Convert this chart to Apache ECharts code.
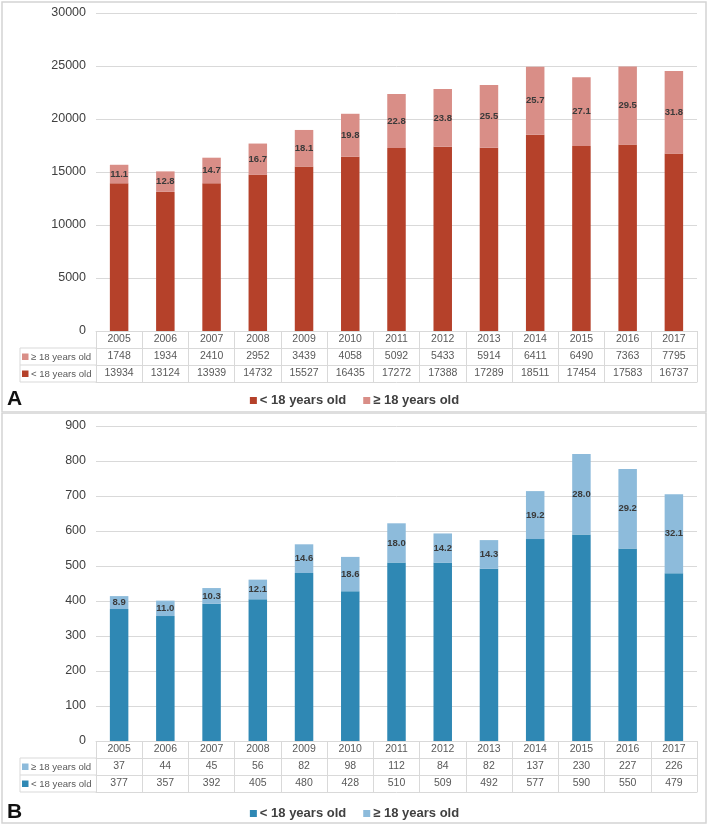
<!DOCTYPE html>
<html><head><meta charset="utf-8">
<script src="https://cdn.jsdelivr.net/npm/echarts@6/dist/echarts.min.js"></script>
<style>
html,body{margin:0;padding:0;background:#fff;}
#a{position:absolute;left:0;top:0;width:709px;height:413px;}
#b{position:absolute;left:0;top:413px;width:709px;height:414px;}
</style>
</head><body><div id="a"></div><div id="b"></div>
<script>
const years = ['2005','2006','2007','2008','2009','2010','2011','2012','2013','2014','2015','2016','2017'];
const seriesNames = ['< 18 years old', '≥ 18 years old'];

const aUnder = [13934,13124,13939,14732,15527,16435,17272,17388,17289,18511,17454,17583,16737];
const aOver  = [1748,1934,2410,2952,3439,4058,5092,5433,5914,6411,6490,7363,7795];
const aPct   = ['11.1','12.8','14.7','16.7','18.1','19.8','22.8','23.8','25.5','25.7','27.1','29.5','31.8'];
const aAxisMax = 30000, aAxisStep = 5000;

const bUnder = [377,357,392,405,480,428,510,509,492,577,590,550,479];
const bOver  = [37,44,45,56,82,98,112,84,82,137,230,227,226];
const bPct   = ['8.9','11.0','10.3','12.1','14.6','18.6','18.0','14.2','14.3','19.2','28.0','29.2','32.1'];
const bAxisMax = 900, bAxisStep = 100;

const FONT = "'Liberation Sans', Arial, sans-serif";
const LINE = '#d9d9d9';

function build(elId, under, over, pct, yMax, yStep, cDark, cLight, letter, gridBottomLocal) {
  const el = document.getElementById(elId);
  const H = el.clientHeight;
  const chart = echarts.init(el, null, {renderer: 'canvas'});
  const gLeft = 96, gRight = 12, gTop = 13;
  const rowH = 17;
  const y0 = gridBottomLocal;
  function tableAxis(offset, fmt, ticks, labels) {
    return {
      type: 'category', gridIndex: 0, data: years, position: 'bottom', offset: offset,
      boundaryGap: true,
      axisLine: {show: true, lineStyle: {color: LINE, width: 1}},
      axisTick: {show: ticks, length: rowH, interval: 0, lineStyle: {color: LINE, width: 1}},
      axisLabel: {show: labels, interval: 0, margin: 3, color: '#595959', fontSize: 10.5,
                  fontFamily: FONT, formatter: fmt},
      splitLine: {show: false}
    };
  }
  const graphic = [
    {type: 'rect', shape: {x: 2, y: elId === 'a' ? 2 : 0, width: 704, height: 410},
     style: {fill: 'none', stroke: '#d4d4d4', lineWidth: 1.5}, silent: true},
    {type: 'text', x: 7, y: 399, style: {text: letter, font: 'bold 21px ' + FONT, fill: '#111',
      textVerticalAlign: 'middle'}},
    {type: 'line', shape: {x1: 20, y1: y0 + rowH, x2: gLeft, y2: y0 + rowH}, style: {stroke: LINE, lineWidth: 1}},
    {type: 'line', shape: {x1: 20, y1: y0 + 2*rowH, x2: gLeft, y2: y0 + 2*rowH}, style: {stroke: LINE, lineWidth: 1}},
    {type: 'line', shape: {x1: 20, y1: y0 + 3*rowH, x2: gLeft, y2: y0 + 3*rowH}, style: {stroke: LINE, lineWidth: 1}},
    {type: 'line', shape: {x1: 20, y1: y0 + rowH, x2: 20, y2: y0 + 3*rowH}, style: {stroke: LINE, lineWidth: 1}},
    {type: 'rect', shape: {x: 22, y: y0 + rowH + 5.5, width: 6.5, height: 6.5}, style: {fill: cLight}},
    {type: 'text', x: 31, y: y0 + rowH + 9, style: {text: seriesNames[1], font: '9.6px ' + FONT,
      fill: '#595959', textVerticalAlign: 'middle'}},
    {type: 'rect', shape: {x: 22, y: y0 + 2*rowH + 5.5, width: 6.5, height: 6.5}, style: {fill: cDark}},
    {type: 'text', x: 31, y: y0 + 2*rowH + 9, style: {text: seriesNames[0], font: '9.6px ' + FONT,
      fill: '#595959', textVerticalAlign: 'middle'}}
  ];
  const option = {
    animation: false,
    backgroundColor: '#fff',
    textStyle: {fontFamily: FONT},
    grid: {left: gLeft, right: gRight, top: gTop, bottom: H - y0, containLabel: false},
    legend: {
      data: seriesNames, top: 389, left: 'center', icon: 'rect', itemWidth: 7, itemHeight: 7,
      itemGap: 17, textStyle: {fontSize: 13, fontWeight: 'bold', color: '#404040', fontFamily: FONT, padding: [0,0,0,-2]}
    },
    xAxis: [
      tableAxis(0, function(v){ return v; }, true, true),
      tableAxis(rowH, function(v, i){ return String(over[i]); }, true, true),
      tableAxis(2*rowH, function(v, i){ return String(under[i]); }, true, true),
      tableAxis(3*rowH, null, false, false)
    ],
    yAxis: {
      type: 'value', min: 0, max: yMax, interval: yStep,
      axisLine: {show: false}, axisTick: {show: false},
      axisLabel: {color: '#404040', fontSize: 12.5, margin: 10, fontFamily: FONT,
                  formatter: function(v){ return String(v); }},
      splitLine: {lineStyle: {color: LINE, width: 1}}
    },
    series: [
      {name: seriesNames[0], type: 'bar', stack: 's', data: under, barWidth: '40%',
       itemStyle: {color: cDark}},
      {name: seriesNames[1], type: 'bar', stack: 's', data: over, barWidth: '40%',
       itemStyle: {color: cLight},
       label: {show: true, position: 'inside', formatter: function(p){ return pct[p.dataIndex]; },
               color: '#3a3a3a', fontSize: 9.5, fontWeight: 'bold', fontFamily: FONT}}
    ],
    graphic: graphic
  };
  chart.setOption(option);
}

build('a', aUnder, aOver, aPct, aAxisMax, aAxisStep, '#B5412A', '#D98E87', 'A', 331);
build('b', bUnder, bOver, bPct, bAxisMax, bAxisStep, '#2F88B4', '#8DBBDB', 'B', 328);
</script>
</body></html>
